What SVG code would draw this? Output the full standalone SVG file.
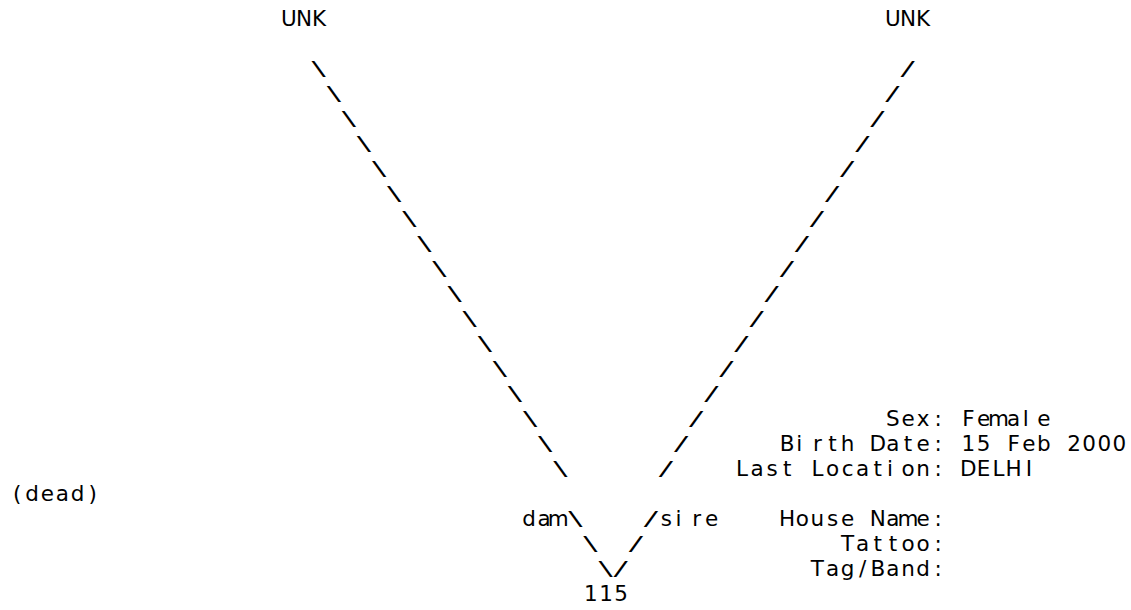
<svg xmlns="http://www.w3.org/2000/svg" width="1131" height="610" viewBox="0 0 1131 610">
<style>
.t{font-family:"DejaVu Sans",Verdana,sans-serif;font-size:21.5px;fill:#000;text-anchor:middle}
.sl{font-family:"DejaVu Sans Mono",monospace;font-size:20px;fill:#000;text-anchor:middle}
</style>
<rect width="1131" height="610" fill="#fff"/>
<g id="node-dam-unk"><text class="t" x="288.9 304 319.1" y="26">UNK</text></g>
<g id="node-sire-unk"><text class="t" x="892.9 908 923.1" y="26">UNK</text></g>
<g id="node-115">
<text class="t" x="590.9 606 621.1" y="601">115</text>
<text class="t" x="17.1 32.2 47.3 62.4 77.5 92.6" y="501">(dead)</text>
</g>
<g id="node-info">
<text class="t" x="892.9 908 923.1 938.2" y="426">Sex:</text>
<text class="t" x="968.4 983.5 998.6 1013.7 1025.8 1043.9" y="426">Female</text>
<text class="t" x="787.2 799.3 817.4 832.5 847.6 862.7 877.8 892.9 908 923.1 938.2" y="451">Birth Date:</text>
<text class="t" x="968.4 983.5 998.6 1013.7 1028.8 1043.9 1059 1074.1 1089.2 1104.3 1119.4" y="451">15 Feb 2000</text>
<text class="t" x="741.9 757 772.1 787.2 802.3 817.4 832.5 847.6 862.7 877.8 889.9 908 923.1 938.2" y="476">Last Location:</text>
<text class="t" x="968.4 983.5 998.6 1013.7 1028.8" y="476">DELHI</text>
<text class="t" x="787.2 802.3 817.4 832.5 847.6 862.7 877.8 892.9 908 923.1 938.2" y="526">House Name:</text>
<text class="t" x="847.6 862.7 877.8 892.9 908 923.1 938.2" y="551">Tattoo:</text>
<text class="t" x="817.4 832.5 847.6 862.7 877.8 892.9 908 923.1 938.2" y="576">Tag/Band:</text>
</g>
<g id="connectors">
<text class="t" x="529 544.1 558.2" y="526">dam</text>
<text class="t" x="666.4 678.5 696.6 711.7" y="526">sire</text>
<g id="dam-line">
<text class="sl" transform="translate(319.1,75) scale(1.5,1)">\</text>
<text class="sl" transform="translate(334.2,100) scale(1.5,1)">\</text>
<text class="sl" transform="translate(349.3,125) scale(1.5,1)">\</text>
<text class="sl" transform="translate(364.4,150) scale(1.5,1)">\</text>
<text class="sl" transform="translate(379.5,175) scale(1.5,1)">\</text>
<text class="sl" transform="translate(394.6,200) scale(1.5,1)">\</text>
<text class="sl" transform="translate(409.7,225) scale(1.5,1)">\</text>
<text class="sl" transform="translate(424.8,250) scale(1.5,1)">\</text>
<text class="sl" transform="translate(439.9,275) scale(1.5,1)">\</text>
<text class="sl" transform="translate(455,300) scale(1.5,1)">\</text>
<text class="sl" transform="translate(470.1,325) scale(1.5,1)">\</text>
<text class="sl" transform="translate(485.2,350) scale(1.5,1)">\</text>
<text class="sl" transform="translate(500.3,375) scale(1.5,1)">\</text>
<text class="sl" transform="translate(515.4,400) scale(1.5,1)">\</text>
<text class="sl" transform="translate(530.5,425) scale(1.5,1)">\</text>
<text class="sl" transform="translate(545.6,450) scale(1.5,1)">\</text>
<text class="sl" transform="translate(560.7,475) scale(1.5,1)">\</text>
<text class="sl" transform="translate(575.8,525) scale(1.5,1)">\</text>
<text class="sl" transform="translate(590.9,550) scale(1.5,1)">\</text>
<text class="sl" transform="translate(606,575) scale(1.5,1)">\</text>
</g>
<g id="sire-line">
<text class="sl" transform="translate(908,75) scale(1.5,1)">/</text>
<text class="sl" transform="translate(892.9,100) scale(1.5,1)">/</text>
<text class="sl" transform="translate(877.8,125) scale(1.5,1)">/</text>
<text class="sl" transform="translate(862.7,150) scale(1.5,1)">/</text>
<text class="sl" transform="translate(847.6,175) scale(1.5,1)">/</text>
<text class="sl" transform="translate(832.5,200) scale(1.5,1)">/</text>
<text class="sl" transform="translate(817.4,225) scale(1.5,1)">/</text>
<text class="sl" transform="translate(802.3,250) scale(1.5,1)">/</text>
<text class="sl" transform="translate(787.2,275) scale(1.5,1)">/</text>
<text class="sl" transform="translate(772.1,300) scale(1.5,1)">/</text>
<text class="sl" transform="translate(757,325) scale(1.5,1)">/</text>
<text class="sl" transform="translate(741.9,350) scale(1.5,1)">/</text>
<text class="sl" transform="translate(726.8,375) scale(1.5,1)">/</text>
<text class="sl" transform="translate(711.7,400) scale(1.5,1)">/</text>
<text class="sl" transform="translate(696.6,425) scale(1.5,1)">/</text>
<text class="sl" transform="translate(681.5,450) scale(1.5,1)">/</text>
<text class="sl" transform="translate(666.4,475) scale(1.5,1)">/</text>
<text class="sl" transform="translate(651.3,525) scale(1.5,1)">/</text>
<text class="sl" transform="translate(636.2,550) scale(1.5,1)">/</text>
<text class="sl" transform="translate(621.1,575) scale(1.5,1)">/</text>
</g>
</g>
</svg>
